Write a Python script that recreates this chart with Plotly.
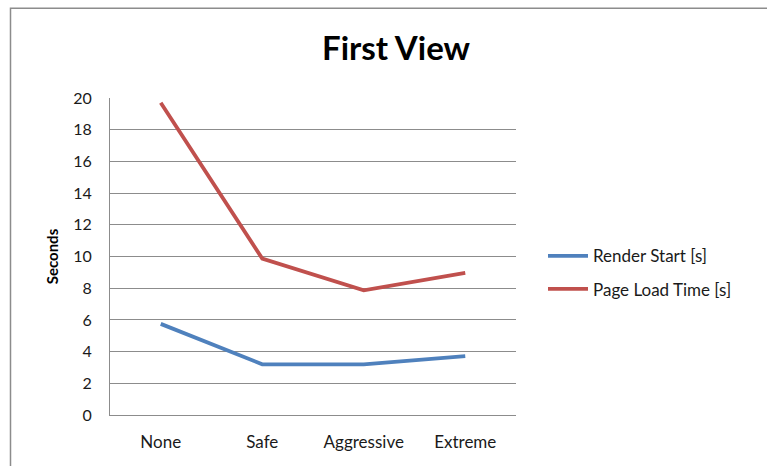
import plotly.graph_objects as go

categories = ["None", "Safe", "Aggressive", "Extreme"]
render_start = [5.75, 3.2, 3.2, 3.72]
page_load = [19.7, 9.87, 7.87, 8.96]
y_ticks = [0, 2, 4, 6, 8, 10, 12, 14, 16, 18, 20]

W, H = 767, 466
L, R, T, B = 110, 516, 97.5, 415

fig = go.Figure()
fig.add_trace(go.Scatter(x=categories, y=render_start, mode="lines", name="Render Start [s]",
                         line=dict(color="#4F81BD", width=3.8), legendgroup="a"))
fig.add_trace(go.Scatter(x=categories, y=page_load, mode="lines", name="Page Load Time [s]",
                         line=dict(color="#C0504D", width=3.8), legendgroup="b"))

pw, ph = R - L, B - T
def px(x):
    return (x - L) / pw
def py(y):
    return (B - y) / ph

fig.add_shape(type="rect", xref="paper", yref="paper",
              x0=px(10.5), x1=px(800), y0=py(7.5), y1=py(500),
              line=dict(color="#8c8c8c", width=1.5), fillcolor="rgba(0,0,0,0)", layer="below")

fig.update_layout(
    width=W, height=H,
    margin=dict(l=L, r=W - R, t=T, b=H - B),
    paper_bgcolor="white", plot_bgcolor="white",
    font=dict(family="Lato", color="#1a1a1a"),
    title=dict(text="<b>First View</b>", x=396 / W, xanchor="center", xref="container",
               y=1 - 48.5 / H, yanchor="middle", yref="container",
               font=dict(family="Lato", size=33, color="#000000")),
    xaxis=dict(range=[-0.5, 3.5], showgrid=False, showline=True, linecolor="#8c8c8c",
               linewidth=1.2, ticks="", tickfont=dict(size=17, color="#1a1a1a"),
               ticklabelstandoff=11, zeroline=False),
    yaxis=dict(range=[0, 20], tickvals=y_ticks, showgrid=True, gridcolor="#8c8c8c",
               gridwidth=1.2, showline=True, linecolor="#8c8c8c", linewidth=1.2,
               ticks="", tickfont=dict(size=16, color="#1a1a1a"), ticklabelstandoff=14,
               zeroline=False,
               title=dict(text="<b>Seconds</b>", font=dict(size=15, color="#000000"), standoff=10)),
    legend=dict(x=px(543), y=py(238), xanchor="left", yanchor="top",
                font=dict(size=17, color="#1a1a1a"), tracegroupgap=8,
                bgcolor="rgba(0,0,0,0)", itemwidth=40),
    showlegend=True,
)

fig.write_html("out.html")
